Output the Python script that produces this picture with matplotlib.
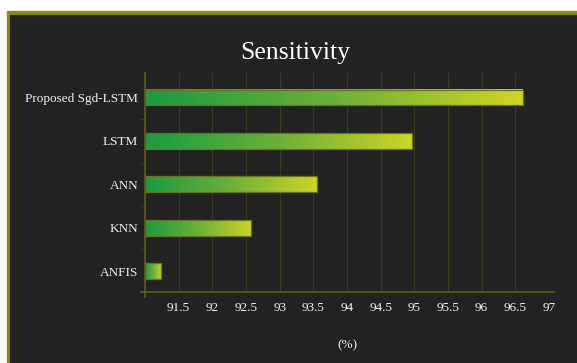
import numpy as np
import matplotlib.pyplot as plt
from matplotlib.colors import LinearSegmentedColormap
from matplotlib.patches import Rectangle

# Data
models = ['Proposed Sgd-LSTM', 'LSTM', 'ANN', 'KNN', 'ANFIS']
sensitivity = [96.61, 94.97, 93.55, 92.58, 91.24]
x_min, x_max = 91, 97
xticks = [91.5, 92, 92.5, 93, 93.5, 94, 94.5, 95, 95.5, 96, 96.5, 97]
xtick_labels = ['91.5', '92', '92.5', '93', '93.5', '94', '94.5', '95', '95.5', '96', '96.5', '97']

plt.rcParams['font.family'] = ['Liberation Serif', 'DejaVu Serif']

W, H = 577, 363
fig = plt.figure(figsize=(W / 100, H / 100), dpi=100)
fig.patch.set_facecolor('white')

# olive frame and dark panel behind the chart
fig.add_artist(Rectangle((7 / W, 0), 1, 1 - 11 / H, color='#8b9000', zorder=0))
fig.add_artist(Rectangle((10 / W, 0), 1, 1 - 15 / H, color='#222222', zorder=0))

ax = fig.add_axes([145 / W, 71 / H, 404 / W, 219.3 / H])
ax.set_facecolor('none')

cmap = LinearSegmentedColormap.from_list('gy', ['#1b9a40', '#6cb03a', '#d0d424'])
grad = np.linspace(0, 1, 256).reshape(1, -1)

y = np.arange(len(models))
widths = [v - x_min for v in sensitivity]
bars = ax.barh(y, widths, left=x_min, height=0.36, facecolor='none',
               edgecolor='#6a7420', linewidth=0.9, zorder=3)

# gradient fill per bar, spanning the bar's own length
for b in bars:
    x0, y0, w, h = b.get_x(), b.get_y(), b.get_width(), b.get_height()
    ax.imshow(grad, extent=(x0, x0 + w, y0 + h, y0), aspect='auto',
              cmap=cmap, zorder=2, interpolation='bilinear')

ax.set_xlim(x_min, x_max)
ax.set_ylim(4.48, -0.57)

ax.set_xticks(xticks)
ax.set_xticklabels(xtick_labels)
ax.set_yticks(y)
ax.set_yticklabels(models)
ax.set_yticks(y[:-1] + 0.5, minor=True)

ax.grid(axis='x', color='#3a3a1e', linewidth=0.8, zorder=1)
for s in ax.spines.values():
    s.set_visible(False)

axis_col = '#5e5e16'
ax.axhline(4.48, xmin=-0.011, xmax=1.012, color=axis_col, lw=1.2, clip_on=False, zorder=4)
ax.axvline(x_min, ymin=-0.022, ymax=1, color=axis_col, lw=1.2, clip_on=False, zorder=4)

ax.tick_params(axis='x', length=0, pad=7, labelsize=9.5, colors='#f0f0f0')
ax.tick_params(axis='y', which='major', length=0, pad=5, labelsize=9.5, colors='#f0f0f0')
ax.tick_params(axis='y', which='minor', length=3, color='#3a3a1e', width=0.8)

ax.set_xlabel('(%)', color='#f0f0f0', fontsize=9.5, labelpad=18.5)

fig.text(295 / W, 1 - 53 / H, 'Sensitivity', ha='center', va='center',
         fontsize=18.5, color='white')

fig.savefig('out.png', dpi=100)
